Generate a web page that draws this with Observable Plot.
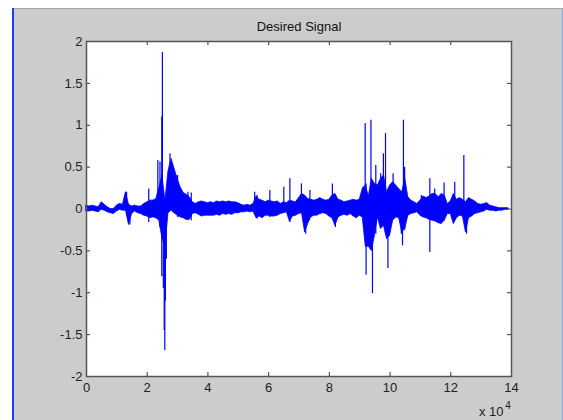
<!DOCTYPE html>
<html><head><meta charset="utf-8">
<script src="https://cdn.jsdelivr.net/npm/d3@7"></script>
<script src="https://cdn.jsdelivr.net/npm/@observablehq/plot@0.6"></script>
<style>
html,body{margin:0;padding:0;background:#fff;}
#wrap{position:relative;width:563px;height:420px;overflow:hidden;background:#cccccc;}
#wrap svg{position:absolute;left:0;top:0;}
.topband{position:absolute;left:0;top:0;width:563px;height:8px;background:#fff;border-bottom:1px solid #a8a898;}
.leftband{position:absolute;left:0;top:0;width:12px;height:420px;background:#fff;}
.bluestrip{position:absolute;left:12px;top:8px;width:2px;height:412px;background:#1a3ff0;}
.rightstrip{position:absolute;left:562px;top:9px;width:1px;height:411px;background:#8aa6e6;}
</style></head>
<body>
<div id="wrap"></div>
<script>
// x in units of 10^4 samples, step 0.1
const sampleX = [0,0.1,0.2,0.3,0.4,0.5,0.6,0.7,0.8,0.9,1.0,1.1,1.2,1.3,1.4,1.5,1.6,1.7,1.8,1.9,
2.0,2.1,2.2,2.3,2.4,2.5,2.6,2.7,2.8,2.9,3.0,3.1,3.2,3.3,3.4,3.5,3.6,3.7,3.8,3.9,
4.0,4.1,4.2,4.3,4.4,4.5,4.6,4.7,4.8,4.9,5.0,5.1,5.2,5.3,5.4,5.5,5.6,5.7,5.8,5.9,
6.0,6.1,6.2,6.3,6.4,6.5,6.6,6.7,6.8,6.9,7.0,7.1,7.2,7.3,7.4,7.5,7.6,7.7,7.8,7.9,
8.0,8.1,8.2,8.3,8.4,8.5,8.6,8.7,8.8,8.9,9.0,9.1,9.2,9.3,9.4,9.5,9.6,9.7,9.8,9.9,
10.0,10.1,10.2,10.3,10.4,10.5,10.6,10.7,10.8,10.9,11.0,11.1,11.2,11.3,11.4,11.5,11.6,11.7,11.8,11.9,
12.0,12.1,12.2,12.3,12.4,12.5,12.6,12.7,12.8,12.9,13.0,13.1,13.2,13.3,13.4,13.5,13.6,13.7,13.8,13.9];
const upper = [0.04,0.03,0.04,0.03,0.02,0.08,0.05,0.02,0.0,0.0,0.04,0.06,0.05,0.2,0.05,0.03,0.04,0.03,0.03,0.06,
0.08,0.1,0.1,0.12,0.25,0.4,0.1,0.45,0.6,0.48,0.36,0.26,0.19,0.17,0.14,0.08,0.06,0.08,0.09,0.08,
0.07,0.08,0.07,0.09,0.08,0.09,0.08,0.09,0.08,0.08,0.07,0.05,0.04,0.05,0.04,0.06,0.15,0.11,0.1,0.08,
0.1,0.09,0.08,0.09,0.06,0.08,0.07,0.1,0.09,0.08,0.13,0.18,0.16,0.12,0.11,0.1,0.11,0.13,0.11,0.1,
0.11,0.16,0.18,0.11,0.1,0.08,0.09,0.1,0.11,0.1,0.11,0.24,0.28,0.15,0.36,0.3,0.28,0.36,0.4,0.2,
0.28,0.32,0.28,0.24,0.2,0.36,0.14,0.1,0.08,0.06,0.1,0.15,0.13,0.15,0.18,0.18,0.14,0.18,0.16,0.06,
0.09,0.18,0.11,0.13,0.11,0.08,0.13,0.11,0.09,0.06,0.05,0.06,0.07,0.04,0.03,0.02,0.01,0.01,0.01,0.01];
const lower = [-0.03,-0.03,-0.02,-0.03,-0.04,-0.01,-0.02,-0.04,-0.05,-0.06,-0.03,-0.01,-0.02,-0.02,-0.19,-0.06,-0.03,-0.05,-0.06,-0.08,
-0.09,-0.11,-0.1,-0.11,-0.14,-0.35,-0.45,-0.05,-0.02,-0.05,-0.08,-0.1,-0.11,-0.13,-0.13,-0.06,-0.05,-0.07,-0.09,-0.08,
-0.08,-0.08,-0.08,-0.07,-0.08,-0.06,-0.07,-0.06,-0.07,-0.05,-0.05,-0.04,-0.04,-0.03,-0.04,-0.03,-0.11,-0.09,-0.11,-0.08,
-0.08,-0.09,-0.09,-0.08,-0.06,-0.05,-0.04,-0.15,-0.09,-0.08,-0.06,-0.05,-0.28,-0.18,-0.1,-0.08,-0.08,-0.06,-0.05,-0.06,
-0.09,-0.11,-0.2,-0.1,-0.08,-0.07,-0.08,-0.06,-0.09,-0.11,-0.08,-0.1,-0.45,-0.45,-0.5,-0.32,-0.1,-0.24,-0.2,-0.36,
-0.32,-0.14,-0.1,-0.11,-0.28,-0.24,-0.08,-0.06,-0.05,-0.04,-0.08,-0.1,-0.11,-0.13,-0.14,-0.15,-0.17,-0.18,-0.14,-0.06,
-0.06,-0.18,-0.11,-0.08,-0.09,-0.28,-0.11,-0.09,-0.06,-0.05,-0.04,-0.03,-0.01,-0.02,-0.02,-0.03,-0.02,-0.02,-0.01,-0.01];
// individual spikes: position, top, bottom
const spikeX =   [1.32,1.43,2.05,2.35,2.42,2.48,2.50,2.53,2.56,2.58,2.60,2.63,2.75,3.00,3.34,3.45,5.54,5.62,6.04,6.50,6.70,7.08,7.22,7.36,8.10,8.20,
9.11,9.18,9.21,9.37,9.42,9.53,9.69,9.78,9.85,9.93,10.10,10.37,10.41,10.44,10.48,11.03,11.31,11.47,11.78,12.13,12.43,12.52];
const spikeTop = [0.2,0.02,0.24,0.58,0.56,1.1,1.87,-0.2,-0.3,0.0,0.0,0.1,0.66,0.4,0.2,0.19,0.2,0.16,0.22,0.26,0.36,0.3,0.1,0.22,0.3,0.1,
0.26,1.02,0.3,1.06,0.2,0.52,0.42,0.66,0.9,0.2,0.42,0.1,0.1,1.06,0.5,0.16,0.36,0.24,0.31,0.32,0.64,0.1];
const spikeBot = [-0.02,-0.19,-0.16,-0.1,-0.22,-0.81,-0.3,-0.95,-1.45,-1.69,-1.1,-0.6,0.0,-0.1,-0.1,-0.14,-0.04,-0.12,-0.1,-0.05,-0.16,-0.05,-0.3,-0.1,-0.1,-0.22,
-0.1,-0.2,-0.79,-0.3,-1.01,-0.3,-0.1,-0.2,-0.3,-0.71,-0.1,-0.3,-0.44,-0.2,-0.25,-0.06,-0.52,-0.1,-0.1,-0.1,-0.05,-0.3];
const xTicks = [0,2,4,6,8,10,12,14];
const yTicks = [-2,-1.5,-1,-0.5,0,0.5,1,1.5,2];
const titleText = "Desired Signal";

const signal = sampleX.map((x,i)=>({x, hi: upper[i], lo: lower[i]}));
const spikes = spikeX.map((x,i)=>({x, y1: spikeTop[i], y2: spikeBot[i]}));
const BLUE = "#0000ff";
const font = "'Liberation Sans', Arial, sans-serif";

const chart = Plot.plot({
  width: 563, height: 420,
  marginLeft: 86, marginRight: 52, marginTop: 41, marginBottom: 44,
  style: {background: "transparent", fontFamily: font, fontSize: "13px", color: "#222", overflow: "visible"},
  x: {domain: [0, 14]},
  y: {domain: [-2, 2]},
  marks: [
    Plot.frame({fill: "white", stroke: "none"}),
    Plot.areaY(signal, {x: "x", y1: "lo", y2: "hi", fill: BLUE, stroke: BLUE, strokeWidth: 0.8}),
    Plot.ruleX(spikes, {x: "x", y1: "y1", y2: "y2", stroke: BLUE, strokeWidth: 1.2}),
    // inward tick marks on all four sides
    Plot.tickX(xTicks, {x: d => d, insetTop: 331, stroke: "#333"}),
    Plot.tickX(xTicks, {x: d => d, insetBottom: 331, stroke: "#333"}),
    Plot.tickY(yTicks, {y: d => d, insetRight: 421, stroke: "#333"}),
    Plot.tickY(yTicks, {y: d => d, insetLeft: 421, stroke: "#333"}),
    Plot.frame({stroke: "#555", strokeWidth: 1.5}),
    Plot.axisX(xTicks, {anchor: "bottom", tickSize: 0, tickPadding: 6, label: null, tickFormat: d => String(d), fill: "#222", fontSize: 13}),
    Plot.axisY(yTicks, {anchor: "left", tickSize: 0, tickPadding: 4, label: null, tickFormat: d => String(d), fill: "#222", fontSize: 13}),
    Plot.text([titleText], {frameAnchor: "top", dy: -15, lineAnchor: "middle", fontSize: 13, fill: "#111"}),
    Plot.text(["x 10"], {frameAnchor: "bottom-right", textAnchor: "end", lineAnchor: "middle", dx: -8, dy: 35, fontSize: 13, fill: "#222"}),
    Plot.text(["4"], {frameAnchor: "bottom-right", textAnchor: "middle", lineAnchor: "middle", dx: -3.5, dy: 29, fontSize: 10, fill: "#222"})
  ]
});
const wrap = document.getElementById("wrap");
wrap.appendChild(chart);
for (const c of ["topband","leftband","bluestrip","rightstrip"]) {
  const d = document.createElement("div"); d.className = c; wrap.appendChild(d);
}
</script>
</body></html>
